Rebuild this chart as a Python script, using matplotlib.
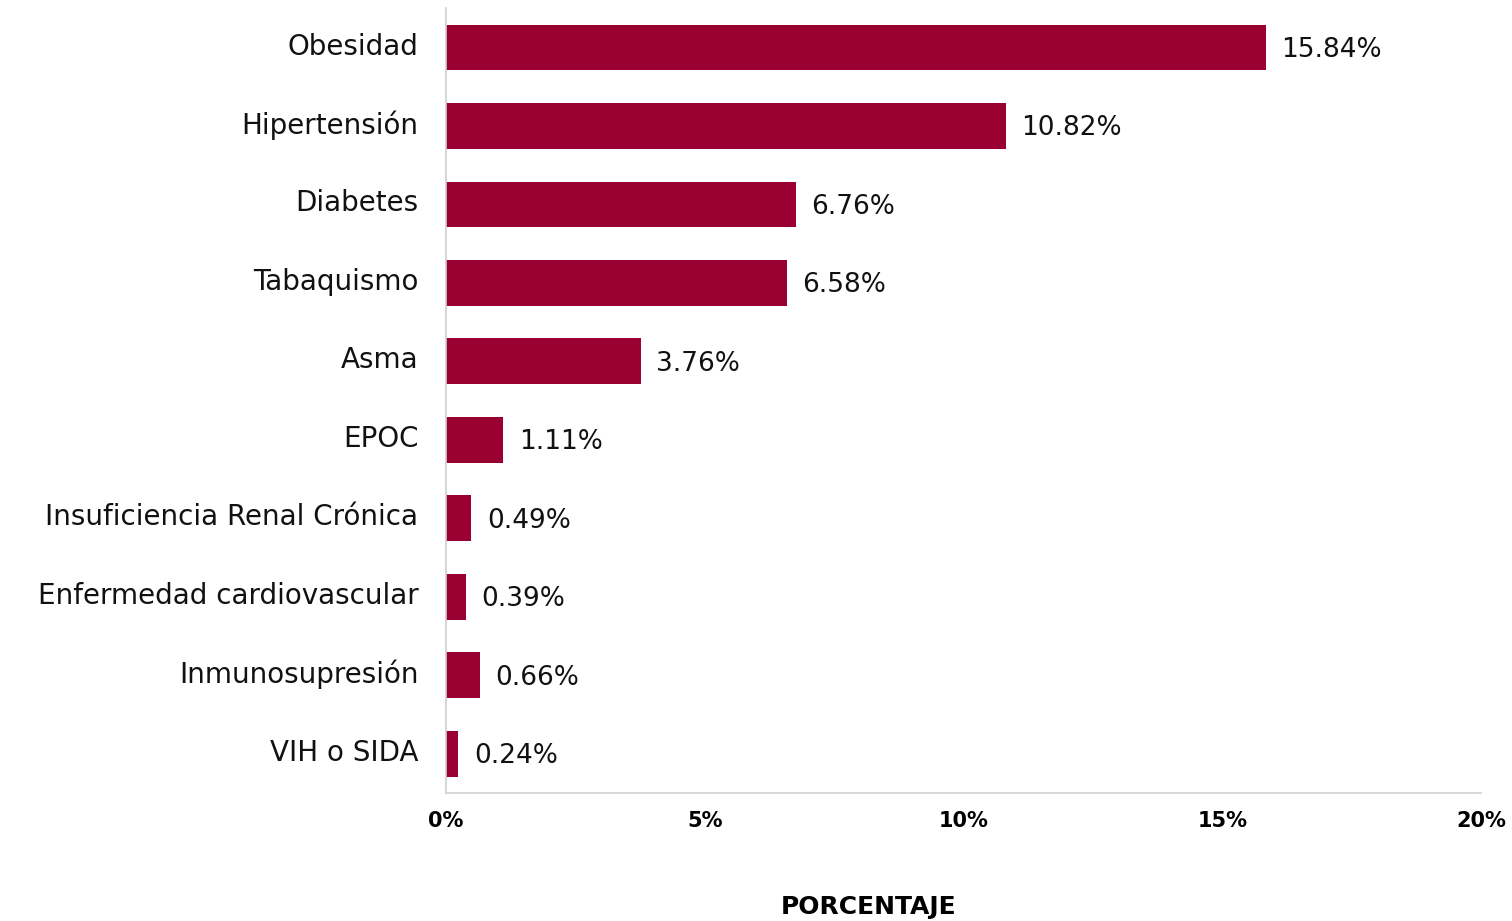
import numpy as np
import matplotlib.pyplot as plt
import matplotlib.transforms as mtransforms

categories = ['Obesidad', 'Hipertensión', 'Diabetes', 'Tabaquismo', 'Asma', 'EPOC',
              'Insuficiencia Renal Crónica', 'Enfermedad cardiovascular',
              'Inmunosupresión', 'VIH o SIDA']
values = [15.84, 10.82, 6.76, 6.58, 3.76, 1.11, 0.49, 0.39, 0.66, 0.24]
xticks = [0, 5, 10, 15, 20]

plt.rcParams['font.family'] = ['DejaVu Sans']

fig = plt.figure(figsize=(15.12, 9.21), dpi=100)
ax = fig.add_axes([0.295, 0.139, 0.6845, 0.852])

index = np.arange(len(categories))
ax.barh(index, values, height=0.585, color='#9B0033')

for y, v in zip(index, values):
    ax.text(v + 0.3, y + 0.03, '%.2f%%' % v, ha='left', va='center', fontsize=19, color='#111111')

ax.set_ylim(len(categories) - 0.5, -0.5)
ax.set_xlim(0, 20)
ax.set_yticks(index)
ax.set_yticklabels(categories, fontsize=20, color='#111111')
ax.set_xticks(xticks)
ax.set_xticklabels(['%d%%' % t for t in xticks], fontsize=15, fontweight='bold')
ax.tick_params(axis='both', length=0)
ax.tick_params(axis='y', pad=20)
ax.tick_params(axis='x', pad=13)

# category labels sit a little above the bar centres
shift = mtransforms.ScaledTranslation(0, 4 / 100, fig.dpi_scale_trans)
for lab in ax.get_yticklabels():
    lab.set_transform(lab.get_transform() + shift)

# x label sits left of the axis centre in the reference
fig.text(869 / 1512, 1 - 907 / 921, 'PORCENTAJE', ha='center', va='center',
         fontsize=18, fontweight='bold')

for s in ['top', 'right']:
    ax.spines[s].set_visible(False)
for s in ['left', 'bottom']:
    ax.spines[s].set_color('#D0D0D0')
    ax.spines[s].set_linewidth(1.2)

fig.savefig('out.png', dpi=100)
